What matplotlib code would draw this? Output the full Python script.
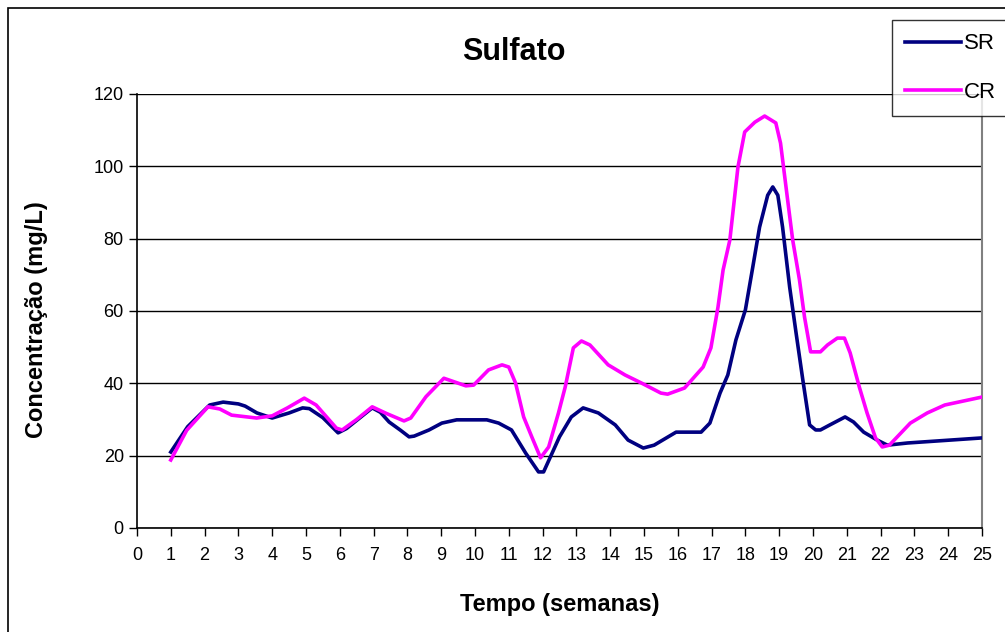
import matplotlib.pyplot as plt
from matplotlib.patches import Rectangle

plt.rcParams['font.family'] = ['Liberation Sans', 'DejaVu Sans']

# sulfate concentration, samples without (SR) and with (CR) treatment
sr_weeks = [1.0, 1.5, 2.15, 2.55, 3.0, 3.2, 3.55, 4.0, 4.5, 4.9, 5.1, 5.5, 5.95,
            6.2, 6.6, 6.96, 7.2, 7.46, 7.8, 8.05, 8.2, 8.64, 9.02, 9.46, 10.35,
            10.7, 11.08, 11.5, 11.88, 12.03, 12.5, 12.85, 13.2, 13.65, 14.15,
            14.53, 14.98, 15.3, 15.95, 16.69, 16.95, 17.25, 17.48, 17.72, 18.0,
            18.22, 18.42, 18.66, 18.81, 18.96, 19.1, 19.31, 19.5, 19.7, 19.9,
            20.08, 20.22, 20.5, 20.95, 21.2, 21.5, 21.9, 22.2, 22.8, 25.0]
sr_values = [21, 28, 34, 34.8, 34.3, 33.7, 31.8, 30.4, 31.8, 33.2, 33, 30.5, 26.3,
             27.5, 30.5, 33.2, 32, 29.3, 27, 25.2, 25.4, 27.1, 29, 29.9, 29.9,
             29, 27.1, 20.7, 15.5, 15.5, 25.2, 30.7, 33.2, 31.8, 28.5,
             24.3, 22.1, 22.9, 26.5, 26.5, 29, 37.3, 42.3, 52, 60.3,
             72.2, 83.2, 92, 94.3, 92, 83.2, 66.6, 53.9, 40.9, 28.5,
             27.1, 27.1, 28.5, 30.7, 29.3, 26.5, 24.3, 22.9, 23.5, 24.9]

cr_weeks = [1.0, 1.47, 2.1, 2.45, 2.8, 3.54, 4.0, 4.45, 4.95, 5.3, 5.9, 6.07, 6.5,
            6.96, 7.37, 7.9, 8.1, 8.55, 9.08, 9.73, 9.96, 10.4, 10.8, 11.0, 11.2,
            11.44, 11.68, 11.94, 12.18, 12.47, 12.67, 12.91, 13.15, 13.4, 13.94,
            14.44, 14.92, 15.5, 15.7, 16.2, 16.75, 16.98, 17.19, 17.34, 17.54,
            17.78, 17.98, 18.28, 18.57, 18.9, 19.04, 19.25, 19.4, 19.6, 19.75,
            19.93, 20.22, 20.43, 20.72, 20.93, 21.1, 21.37, 21.6, 21.85, 22.05,
            22.26, 22.88, 23.38, 23.9, 25.0]
cr_values = [18.8, 27, 33.5, 32.9, 31.2, 30.4, 31, 33.2, 35.9, 34, 27.6, 27.1, 30,
             33.5, 31.7, 29.6, 30.4, 36.3, 41.4, 39.3, 39.5, 43.7, 45.1, 44.5, 40.1,
             30.7, 25.2, 19.4, 22.4, 31.8, 39, 49.8, 51.7, 50.6, 45.1,
             42.3, 40.1, 37.3, 37, 38.7, 44.5, 49.8, 61.1, 71.3, 79.6,
             99.8, 109.5, 112.2, 113.9, 112, 106.4, 90.7, 79.6, 68.6, 58.3,
             48.7, 48.7, 50.6, 52.5, 52.5, 48.4, 39, 31.8, 24.9, 22.4,
             22.9, 29, 31.8, 34, 36.2]

x_ticks = list(range(0, 26))
y_ticks = [0, 20, 40, 60, 80, 100, 120]

fig = plt.figure(figsize=(10.05, 6.32), dpi=100)
ax = fig.add_axes([0.1363, 0.1646, 0.8408, 0.6867])

ax.plot(sr_weeks, sr_values, color='#000080', lw=2.6, label='SR', zorder=3)
ax.plot(cr_weeks, cr_values, color='#FF00FF', lw=2.6, label='CR', zorder=3)

ax.set_xlim(0, 25)
ax.set_ylim(0, 120)
ax.set_xticks(x_ticks)
ax.set_yticks(y_ticks)
ax.tick_params(labelsize=13, direction='out', length=6, width=1, color='black')
ax.tick_params(axis='x', pad=8)
ax.yaxis.grid(True, color='black', lw=1)
ax.set_axisbelow(True)

ax.spines['top'].set_visible(False)
ax.spines['right'].set_color('#808080')
ax.spines['right'].set_linewidth(1.5)
ax.spines['left'].set_linewidth(1.2)
ax.spines['bottom'].set_linewidth(1.2)

fig.text(0.511, 0.918, 'Sulfato', ha='center', va='center', fontsize=22, fontweight='bold')
fig.text(0.557, 0.043, 'Tempo (semanas)', ha='center', va='center', fontsize=17, fontweight='bold')
fig.text(0.036, 0.495, 'Concentração (mg/L)', ha='center', va='center', rotation=90,
         fontsize=17, fontweight='bold')

# outer chart frame
fig.patches.append(Rectangle((8 / 1005, -0.1), 1.2, 1.1 - 8 / 632, transform=fig.transFigure,
                             fill=False, edgecolor='black', lw=1.2))

leg = fig.legend(loc='upper left', bbox_to_anchor=(892 / 1005, 1 - 20 / 632),
                 fontsize=16, frameon=True, fancybox=False, edgecolor='black',
                 handlelength=2.5, handletextpad=0.15, labelspacing=1.25,
                 borderpad=0.6, borderaxespad=0)
leg.get_frame().set_linewidth(1)

fig.savefig('out.png', dpi=100)
